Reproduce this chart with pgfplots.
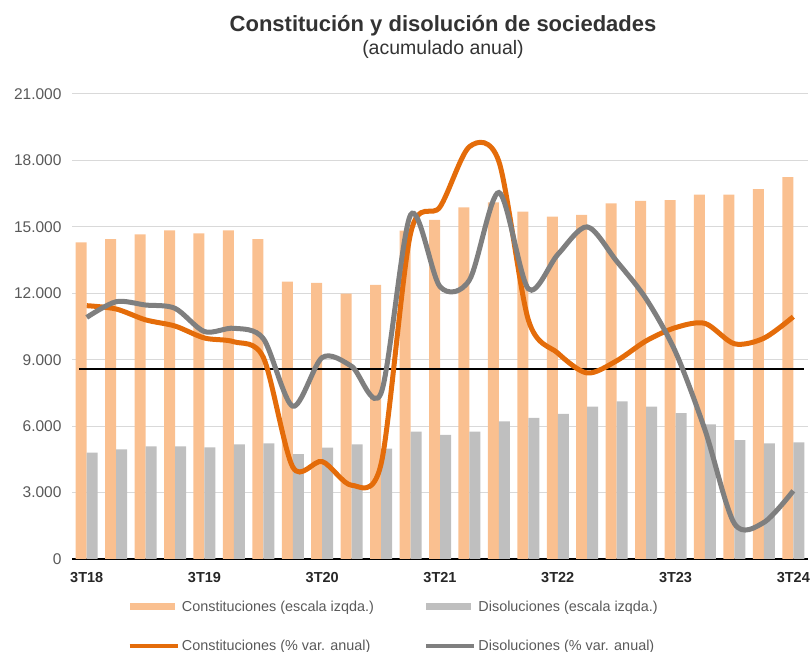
\documentclass[border=0pt]{standalone}
\usepackage{pgfplots}
\pgfplotsset{compat=1.18}
\usepackage{fontspec}
\setmainfont{Liberation Sans}
\definecolor{barO}{HTML}{FAC090}
\definecolor{barG}{HTML}{BFBFBF}
\definecolor{lineO}{HTML}{E46C0A}
\definecolor{lineG}{HTML}{7F7F7F}
\definecolor{txt}{HTML}{595959}
\definecolor{gridc}{HTML}{D9D9D9}

\pgfplotstableread{
x cons dis pcons pdis
0 14300 4800 11440 10910
1 14450 4950 11290 11620
2 14660 5090 10800 11470
3 14840 5090 10520 11320
4 14710 5040 9980 10270
5 14840 5180 9810 10420
6 14450 5220 9100 9950
7 12530 4740 4150 6900
8 12470 5030 4400 9100
9 11990 5180 3330 8700
10 12380 4980 4300 7500
11 14830 5750 14700 15540
12 15310 5600 15900 12300
13 15880 5750 18620 12600
14 16100 6220 17950 16550
15 15690 6370 10800 12200
16 15460 6550 9300 13750
17 15540 6880 8400 15000
18 16060 7120 8950 13450
19 16170 6880 9850 11750
20 16210 6590 10450 9350
21 16460 6080 10640 5830
22 16460 5370 9720 1600
23 16700 5220 9970 1650
24 17250 5270 10940 3080
}\datatable

\begin{document}
\begin{tikzpicture}
\path[use as bounding box] (0pt,0pt) rectangle (810pt,652pt);
\node[font=\fontsize{22}{26}\selectfont\bfseries, text=black!80] at (443pt,626pt) {Constitución y disolución de sociedades};
\node[font=\fontsize{19.5}{22}\selectfont, text=black!80] at (443pt,603pt) {(acumulado anual)};
\begin{axis}[
  at={(72pt,93pt)}, anchor=south west, scale only axis,
  width=736pt, height=465pt,
  xmin=-0.5, xmax=24.5, ymin=0, ymax=21000,
  ytick={0,3000,...,21000}, scaled y ticks=false,
  /pgf/number format/1000 sep={.},
  /pgf/number format/assume math mode=true,
  yticklabel style={font=\fontsize{15.5}{17}\selectfont, text=txt, anchor=east, xshift=-7pt},
  xtick={0,4,...,24},
  xticklabels={3T18,3T19,3T20,3T21,3T22,3T23,3T24},
  xticklabel style={font=\fontsize{14.5}{16}\selectfont\bfseries, text=black!85, yshift=-10pt},
  axis x line*=bottom, axis y line*=left,
  y axis line style={draw=none},
  x axis line style={black, line width=2.5pt, -},
  tick style={draw=none},
  ymajorgrids, grid style={gridc, line width=1pt},
  legend columns=2,
  legend cell align=left,
  legend style={at={(0.075,-0.145)}, anchor=west, draw=none, fill=none,
    font=\fontsize{14.4}{16}\selectfont, text=txt, inner sep=0pt,
    row sep=23pt,
    /tikz/every even column/.append style={column sep=48pt}},
]
\addplot[ybar, bar width=11pt, bar shift=-5.5pt, fill=barO, draw=none,
  legend image code/.code={\fill[barO] (0pt,-3.5pt) rectangle (45pt,3.5pt);}]
  table[x=x, y=cons] {\datatable};
\addlegendentry{Constituciones (escala izqda.)}
\addplot[ybar, bar width=11pt, bar shift=5.5pt, fill=barG, draw=none,
  legend image code/.code={\fill[barG] (0pt,-3.5pt) rectangle (45pt,3.5pt);}]
  table[x=x, y=dis] {\datatable};
\addlegendentry{Disoluciones (escala izqda.)}
\addplot[black, line width=2.8pt, forget plot] coordinates {(-0.25,8580) (24.35,8580)};
\addplot[lineO, line width=5pt, smooth, no markers,
  legend image code/.code={\draw[lineO, line width=4.5pt] (0pt,0pt) -- (48pt,0pt);}]
  table[x=x, y=pcons] {\datatable};
\addlegendentry{Constituciones (\% var. anual)}
\addplot[lineG, line width=5pt, smooth, no markers,
  legend image code/.code={\draw[lineG, line width=4.5pt] (0pt,0pt) -- (48pt,0pt);}]
  table[x=x, y=pdis] {\datatable};
\addlegendentry{Disoluciones (\% var. anual)}
\end{axis}
\end{tikzpicture}
\end{document}
